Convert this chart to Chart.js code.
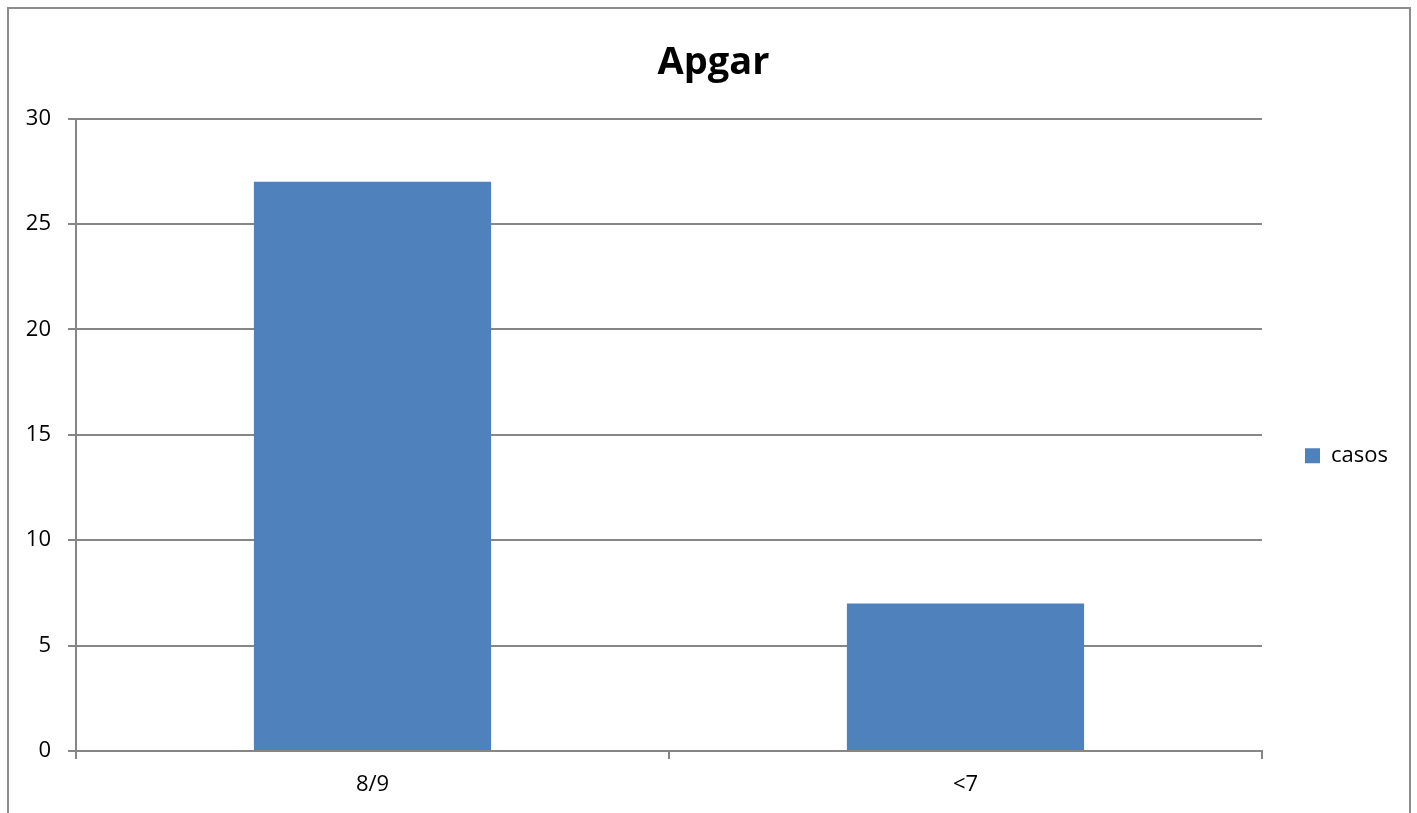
<!DOCTYPE html>
<html>
<head>
<meta charset="utf-8">
<script src="https://cdn.jsdelivr.net/npm/chart.js@4/dist/chart.umd.min.js"></script>
<style>
  html, body { margin: 0; padding: 0; background: #ffffff; overflow: hidden; }
  #wrap { position: relative; width: 1417px; height: 813px; }
  #frame { position: absolute; left: 7px; top: 7px; width: 1404px; height: 900px; border: 2px solid #8c8c8c; box-sizing: border-box; }
  canvas { position: absolute; left: 0; top: 0; }
</style>
</head>
<body>
<div id="wrap">
  <div id="frame"></div>
  <canvas id="apgar" width="1417" height="813"></canvas>
</div>
<script>
  // datos del grafico
  var categorias = ["8/9", "<7"];
  var casos = [27, 7];
  var yTicks = [0, 5, 10, 15, 20, 25, 30];

  Chart.defaults.font.family = "'Open Sans', sans-serif";
  Chart.defaults.color = "#000000";

  var gris = "#868686";

  // leyenda con ancho fijo y bajada un poco, como en Excel
  var ajusteLeyenda = {
    id: 'ajusteLeyenda',
    beforeLayout: function (chart) {
      var lg = chart.legend;
      if (lg && !lg._fijo) {
        var fitOrig = lg.fit;
        lg.fit = function () { fitOrig.call(this); this.width = 155; };
        lg._fijo = true;
      }
    },
    afterLayout: function (chart) {
      chart.legend.top += 21;
      chart.legend.bottom += 21;
    }
  };

  var ctx = document.getElementById('apgar').getContext('2d');
  var grafico = new Chart(ctx, {
    type: 'bar',
    data: {
      labels: categorias,
      datasets: [{
        label: "casos",
        data: casos,
        backgroundColor: "#4F81BD",
        borderWidth: 0,
        categoryPercentage: 0.4,
        barPercentage: 1
      }]
    },
    options: {
      responsive: false,
      animation: false,
      layout: { padding: { top: 0, left: 10, right: 0, bottom: 0 } },
      plugins: {
        title: {
          display: true,
          text: "Apgar",
          font: { size: 38, weight: 'bold' },
          color: "#000000",
          padding: { top: 40, bottom: 33 }
        },
        legend: {
          position: 'right',
          fullSize: false,
          labels: {
            boxWidth: 15,
            boxHeight: 15,
            padding: 43,
            font: { size: 22 },
            color: "#000000"
          }
        },
        tooltip: { enabled: false }
      },
      scales: {
        x: {
          grid: { offset: true, drawOnChartArea: false, color: gris, lineWidth: 2, tickLength: 8 },
          border: { color: gris, width: 2 },
          ticks: { font: { size: 22 }, padding: 13 },
          afterFit: function (s) { s.height = 62; }
        },
        y: {
          min: 0,
          max: 30,
          afterBuildTicks: function (s) { s.ticks = yTicks.map(function (v) { return { value: v }; }); },
          grid: { color: gris, lineWidth: 2, tickLength: 8 },
          border: { color: gris, width: 2 },
          ticks: { font: { size: 22 }, padding: 17 },
          afterFit: function (s) { s.width = 66; }
        }
      }
    },
    plugins: [ajusteLeyenda]
  });
</script>
</body>
</html>
